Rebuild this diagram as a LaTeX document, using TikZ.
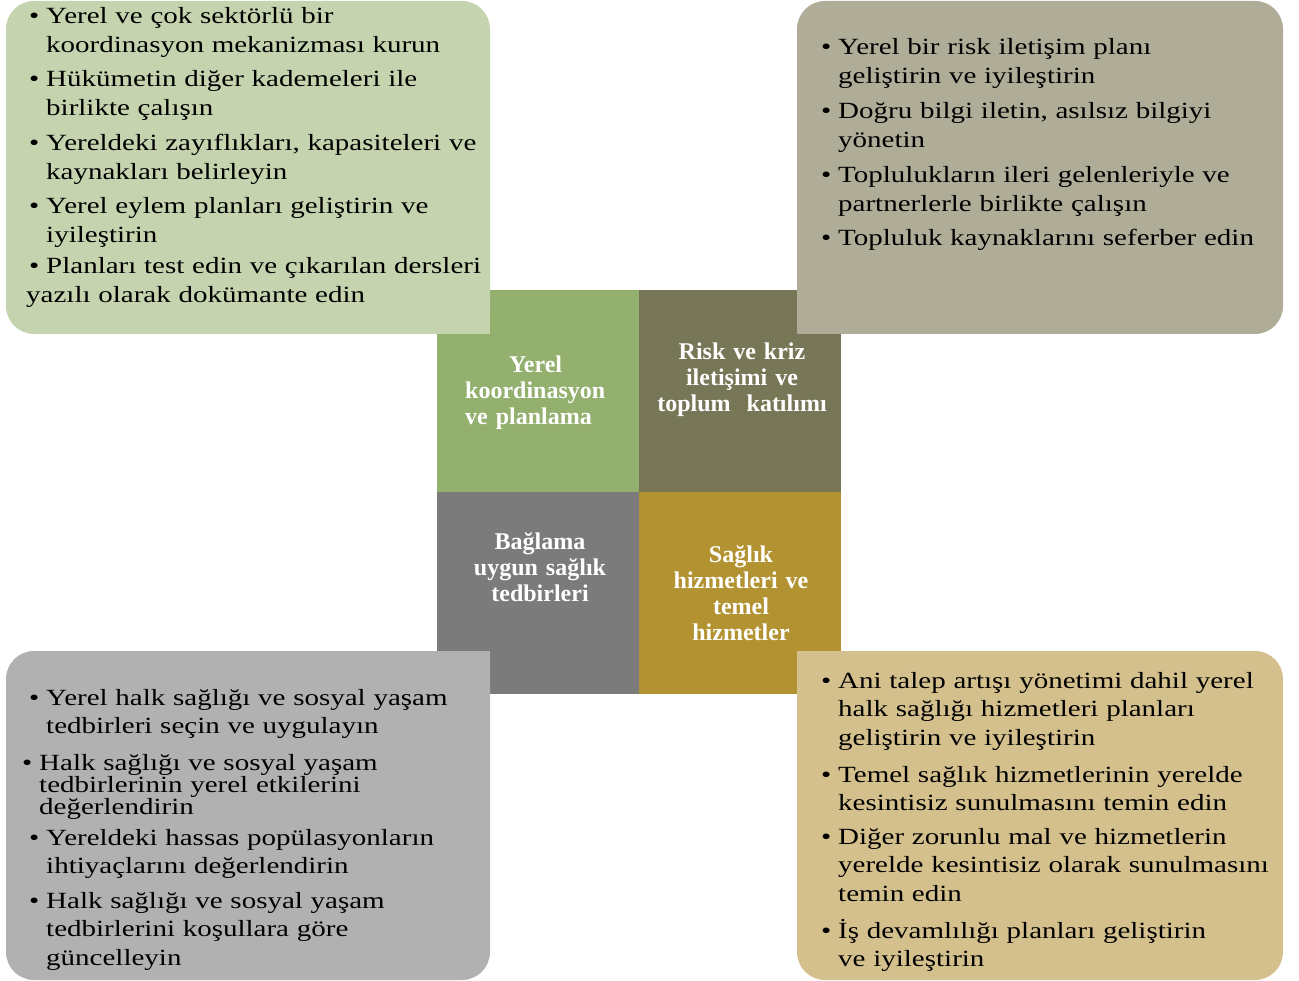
\documentclass[tikz,border=0pt]{standalone}
\usepackage{fontspec}
\setmainfont{Liberation Serif}
\newfontfamily\bodyfont{Liberation Serif}[FakeStretch=1.25]
\usetikzlibrary{positioning}
\definecolor{tlbox}{HTML}{C5D3AF}
\definecolor{trbox}{HTML}{AFAC98}
\definecolor{blbox}{HTML}{B1B1B1}
\definecolor{brbox}{HTML}{D4C08C}
\definecolor{tlcell}{HTML}{93B06F}
\definecolor{trcell}{HTML}{777657}
\definecolor{blcell}{HTML}{7B7B7B}
\definecolor{brcell}{HTML}{B29231}
\newcommand{\bul}{\makebox[17pt][l]{\textbullet}}
\newcommand{\hang}{\hspace*{17pt}}

\begin{document}
\begin{tikzpicture}[x=1pt,y=-1pt,
	cell/.style={minimum size=202pt, inner sep=0, draw=none},
	title/.style={anchor=base, inner sep=0, text=white, text width=196pt, align=center, font=\bfseries\fontsize{24}{26}\selectfont},
	item/.style={anchor=base west, inner sep=0, text width=480pt, align=left, font=\bodyfont\fontsize{23.2}{28.5}\selectfont}]
	\useasboundingbox (0,0) rectangle (1299,981);

	% the four squares in the middle
	\node[cell, fill=tlcell] (c1) at (538,391) {};
	\node[cell, fill=trcell] (c2) at (740,391) {};
	\node[cell, fill=blcell] (c3) at (538,592.5) {};
	\node[cell, fill=brcell] (c4) at (740,592.5) {};

	% corner boxes, the corner that meets the squares stays sharp
	\fill[tlbox, rounded corners=28pt] (6,1) rectangle (490,334);
	\fill[tlbox] (450,294) rectangle (490,334);
	\fill[trbox, rounded corners=28pt] (797,1) rectangle (1283,334);
	\fill[trbox] (797,294) rectangle (837,334);
	\fill[blbox, rounded corners=28pt] (6,651) rectangle (490,980);
	\fill[blbox] (450,651) rectangle (490,691);
	\fill[brbox, rounded corners=28pt] (797,651) rectangle (1283,980);
	\fill[brbox] (797,651) rectangle (837,691);

	\node[title, anchor=base west, align=left, text width=170pt] (t1) at (465,373) {\hspace*{44pt}Yerel\\koordinasyon\\ve planlama};
	\node[title] (t2) at (742,360) {Risk ve kriz\\iletişimi ve\\toplum\ \ katılımı};
	\node[title] (t3) at (540,549) {Bağlama\\uygun sağlık\\tedbirleri};
	\node[title] (t4) at (741,562) {Sağlık\\hizmetleri ve\\temel\\hizmetler};

	\node[item] (a1) at (29,24) {\bul Yerel ve çok sektörlü bir\\\hang koordinasyon mekanizması kurun};
	\node[item] (a2) at (29,87) {\bul Hükümetin diğer kademeleri ile\\\hang birlikte çalışın};
	\node[item] (a3) at (29,151) {\bul Yereldeki zayıflıkları, kapasiteleri ve\\\hang kaynakları belirleyin};
	\node[item] (a4) at (29,214) {\bul Yerel eylem planları geliştirin ve\\\hang iyileştirin};
	\node[item] (a5) at (29,274) {\bul Planları test edin ve çıkarılan dersleri\\\hspace*{-3pt}yazılı olarak dokümante edin};

	\node[item] (b1) at (821,55) {\bul Yerel bir risk iletişim planı\\\hang geliştirin ve iyileştirin};
	\node[item] (b2) at (821,119) {\bul Doğru bilgi iletin, asılsız bilgiyi\\\hang yönetin};
	\node[item] (b3) at (821,183) {\bul Toplulukların ileri gelenleriyle ve\\\hang partnerlerle birlikte çalışın};
	\node[item] (b4) at (821,246) {\bul Topluluk kaynaklarını seferber edin};

	\node[item] (d1) at (29,705) {\bul Yerel halk sağlığı ve sosyal yaşam\\\hang tedbirleri seçin ve uygulayın};
	\node[item, font=\bodyfont\fontsize{23.2}{21}\selectfont] (d2) at (22,770) {\bul Halk sağlığı ve sosyal yaşam\\\hang tedbirlerinin yerel etkilerini\\\hang değerlendirin};
	\node[item] (d3) at (29,845) {\bul Yereldeki hassas popülasyonların\\\hang ihtiyaçlarını değerlendirin};
	\node[item] (d4) at (29,908) {\bul Halk sağlığı ve sosyal yaşam\\\hang tedbirlerini koşullara göre\\\hang güncelleyin};

	\node[item] (e1) at (821,688) {\bul Ani talep artışı yönetimi dahil yerel\\\hang halk sağlığı hizmetleri planları\\\hang geliştirin ve iyileştirin};
	\node[item] (e2) at (821,782) {\bul Temel sağlık hizmetlerinin yerelde\\\hang kesintisiz sunulmasını temin edin};
	\node[item] (e3) at (821,844) {\bul Diğer zorunlu mal ve hizmetlerin\\\hang yerelde kesintisiz olarak sunulmasını\\\hang temin edin};
	\node[item] (e4) at (821,938) {\bul İş devamlılığı planları geliştirin\\\hang ve iyileştirin};
\end{tikzpicture}
\end{document}
